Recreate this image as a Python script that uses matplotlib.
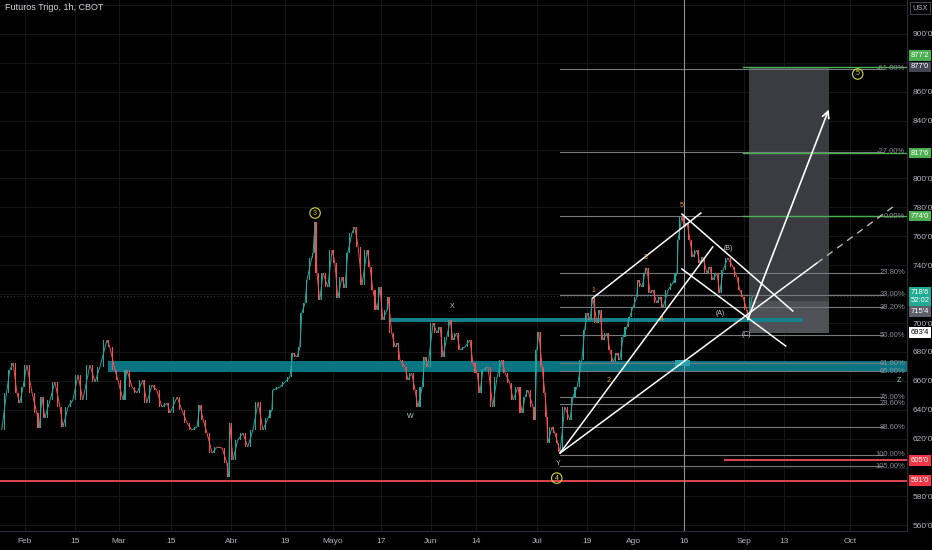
import numpy as np
import matplotlib.pyplot as plt
import matplotlib.transforms as mtransforms
from matplotlib.collections import LineCollection
from matplotlib.patches import Rectangle

plt.rcParams['font.family'] = ['Liberation Sans Narrow', 'Liberation Sans', 'DejaVu Sans']

# trading-day index (0 = 1 Feb) and price in cents
days = [-4.9, -3.9, -3.2, -2.5, -1.7, -1.1, -0.4, 0.4, 1.5, 2.5, 3.0, 3.6, 4.2, 5.3, 6.3, 7.4, 8.0, 9.1,
        10.1, 11.2, 12.2, 13.7, 14.8, 15.8, 17.3, 17.9, 19.0, 19.6, 20.7, 21.5, 22.6, 23.6, 24.9, 25.7,
        26.8, 27.8, 28.9, 30.0, 30.6, 32.1, 33.1, 34.2, 35.2, 36.3, 36.9, 37.6, 38.4, 39.5, 40.5, 41.6,
        42.6, 43.0, 43.2, 43.9, 44.9, 46.0, 47.0, 48.1, 49.2, 50.2, 51.3, 52.1, 52.3, 53.8, 54.9, 55.9,
        56.5, 57.4, 58.0, 58.4, 59.1, 59.5, 60.5, 60.8, 61.2, 61.6, 62.2, 62.9, 63.9, 64.8, 65.4, 66.0,
        66.9, 67.5, 68.1, 69.0, 69.6, 70.3, 71.1, 72.2, 72.8, 73.4, 74.3, 74.9, 75.5, 76.4, 76.6, 77.4,
        78.1, 78.7, 79.1, 80.2, 80.8, 81.6, 82.3, 82.9, 83.8, 84.4, 85.0, 86.1, 86.9, 87.6, 88.2, 89.0,
        89.7, 90.3, 91.1, 91.8, 92.8, 93.9, 94.5, 95.4, 96.0, 96.6, 97.7, 98.7, 99.6, 100.6, 101.3,
        102.3, 103.0, 104.0, 104.9, 105.5, 106.1, 107.2, 107.6, 108.0, 108.4, 109.1, 109.7, 110.1,
        110.3, 111.2, 111.8, 112.4, 112.9, 113.9, 115.0, 115.6, 116.5, 117.5, 118.1, 118.6, 119.2,
        119.8, 120.7, 121.3, 121.9, 122.8, 123.4, 124.1, 124.9, 125.5, 126.2, 127.0, 127.6, 128.3,
        129.1, 129.3, 130.2, 130.8, 131.2, 131.9, 132.5, 133.3, 134.0, 134.6, 135.7, 136.7, 137.6,
        137.8, 138.6, 139.2, 139.7, 140.3, 140.9, 141.8, 142.4, 143.0, 143.9, 144.5, 145.1, 146.0,
        146.6, 147.3, 148.3, 149.4, 150.2, 150.8, 151.5, 152.3, 152.5, 153.4, 153.6]
prices = [626.0, 651.6, 667.5, 672.3, 651.6, 644.6, 655.7, 670.9, 651.6, 637.7, 627.3, 648.8, 634.3,
          646.7, 659.2, 641.9, 628.0, 641.9, 646.7, 664.0, 646.7, 670.9, 659.2, 669.6, 688.2, 683.4,
          667.5, 660.6, 646.7, 667.5, 655.7, 651.6, 660.6, 644.6, 657.1, 653.6, 641.9, 644.6, 637.7,
          648.8, 639.8, 630.8, 626.0, 628.0, 643.3, 632.9, 623.9, 610.0, 614.2, 613.5, 603.1, 593.4,
          630.8, 605.2, 619.0, 623.9, 614.2, 626.0, 645.3, 626.0, 634.3, 639.8, 653.6, 655.7, 659.2,
          662.6, 679.2, 676.5, 683.4, 706.9, 713.8, 729.8, 745.0, 748.4, 769.9, 734.6, 715.9, 734.6,
          724.9, 750.5, 741.5, 717.3, 731.8, 724.2, 748.4, 762.3, 766.4, 752.6, 726.3, 750.5, 738.8,
          722.8, 709.0, 724.9, 702.1, 709.0, 718.0, 693.1, 683.4, 686.2, 674.4, 669.6, 660.6, 665.4,
          653.6, 641.9, 655.7, 676.5, 669.6, 700.0, 693.1, 697.2, 676.5, 690.3, 702.1, 688.2, 693.1,
          681.3, 683.4, 688.2, 672.3, 665.4, 651.6, 667.5, 669.6, 641.9, 662.6, 674.4, 665.4, 658.5,
          646.7, 655.7, 637.7, 648.8, 653.6, 641.9, 632.9, 681.3, 693.8, 669.6, 651.6, 635.0, 617.0,
          628.0, 623.9, 617.0, 610.7, 641.9, 632.9, 648.8, 655.7, 674.4, 695.2, 706.9, 702.1, 717.3,
          700.0, 709.0, 688.2, 693.1, 681.3, 673.0, 679.2, 674.4, 690.3, 697.2, 704.2, 711.1, 718.0,
          729.8, 724.9, 734.6, 738.1, 720.8, 722.8, 713.8, 718.0, 710.4, 722.8, 727.7, 734.6, 757.4,
          773.4, 766.4, 769.2, 757.4, 745.7, 750.5, 741.5, 745.7, 734.6, 738.8, 729.8, 734.6, 720.8,
          736.7, 745.0, 738.8, 731.8, 722.8, 718.0, 709.0, 702.1, 718.0, 718.6]

date_pos = [0.0, 10.5, 19.8, 30.8, 43.5, 54.9, 65.0, 75.1, 85.7, 95.1, 108.0, 118.6, 128.5, 139.0,
            151.7, 160.1, 174.1]
date_labels = ['Feb', '15', 'Mar', '15', 'Abr', '19', 'Mayo', '17', 'Jun', '14', 'Jul', '19', 'Ago',
               '16', 'Sep', '13', 'Oct']

# fibonacci anchors (wave 5 top / Y low)
fib_top, fib_low = 774.0, 609.0
fib_levels = [-0.618, -0.27, 0.0, 0.238, 0.33, 0.382, 0.5, 0.618, 0.65, 0.76, 0.786, 0.886, 1.0, 1.05]
fib_texts = ['-61.80%', '-27.00%', '0.00%', '23.80%', '33.00%', '38.20%', '50.00%', '61.80%',
             '65.00%', '76.00%', '78.60%', '88.60%', '100.00%', '105.00%']

green_levels = [877.2, 817.6, 774.0]
red_full, red_short = 591.0, 605.0
last_price = 718.6
box_target, box_entry, box_stop = 877.2, 715.4, 693.4
box_days = (152.7, 169.6)

# trend lines: ((day, price), (day, price))
trend_lines = [((112.9, 610.0), (145.1, 752.6)),
               ((112.9, 610.0), (167.1, 741.5)),
               ((119.8, 717.3), (142.6, 776.1)),
               ((138.6, 775.4), (162.0, 708.3)),
               ((138.6, 737.4), (160.5, 684.1))]
dashed_line = ((167.1, 741.5), (183.1, 780.3))
arrow_line = ((152.3, 700.7), (169.8, 849.5))

waves_small = [('1', 120.0, 722.8), ('2', 123.2, 659.9), ('3', 131.0, 745.0),
               ('4', 134.4, 702.1), ('5', 138.6, 781.0)]
waves_abc = [('(A)', 146.6, 706.9), ('(B)', 148.5, 751.9), ('(C)', 152.3, 692.4)]
waves_wxyz = [('W', 81.2, 635.0), ('X', 90.1, 711.1), ('Y', 112.4, 603.1), ('Z', 184.4, 659.9)]
waves_circle = [('3', 61.2, 776.1), ('4', 112.2, 592.7), ('5', 175.7, 872.3)]

# axis price labels: text, price, shift in points, face, text colour
axis_tags = [("877'2", 877.2, 8, '#4caf50', 'white'),
             ("877'0", 877.2, 0, '#434651', 'white'),
             ("817'6", 817.6, 0, '#4caf50', 'white'),
             ("774'0", 774.0, 0, '#4caf50', 'white'),
             ("718'6\n52:02", 718.6, 0, '#22ab94', 'white'),
             ("715'4", 715.4, -8, '#5d606b', 'white'),
             ("693'4", 693.4, 0, 'white', 'black'),
             ("605'0", 605.0, 0, '#f23645', 'white'),
             ("591'0", 591.0, 0, '#f23645', 'white')]

UP, DOWN = '#26a69a', '#ef5350'
BG = '#000000'
GRID = '#161616'
TXT = '#b2b5be'

fig = plt.figure(figsize=(9.32, 5.5), dpi=100, facecolor=BG)
ax = fig.add_axes([0, 19 / 550, 907 / 932, 531 / 550])
ax.set_facecolor(BG)
ax.set_xlim(-5.27, 186.1)
ax.set_ylim(556.1, 923.5)

# price ticks; the ones sitting under a tag or the USX box are not labelled
yt = np.arange(560, 921, 20)
tag_prices = [t[1] for t in axis_tags if t[2] == 0]
ylabels = []
for v in yt:
    hidden = v > ax.get_ylim()[1] - 8 or any(abs(v - tp) < 5.5 for tp in tag_prices)
    ylabels.append('' if hidden else f"{v}'0")
ax.set_yticks(yt)
ax.set_yticklabels(ylabels)
ax.yaxis.tick_right()
ax.set_xticks(date_pos)
ax.set_xticklabels(date_labels)
ax.tick_params(axis='both', length=0, colors=TXT, labelsize=6)
ax.tick_params(axis='y', pad=4)
ax.tick_params(axis='x', pad=5)
ax.grid(True, color=GRID, lw=0.7)
ax.set_axisbelow(True)
for s in ['top', 'left']:
    ax.spines[s].set_visible(False)
for s in ['right', 'bottom']:
    ax.spines[s].set_color('#2a2e39')

# bands and horizontal levels
ax.axhspan(666.0, 673.5, xmin=(17.5 + 5.27) / 191.37, color='#0a7482', lw=0, zorder=1.2)
ax.add_patch(Rectangle((77.0, 700.7), 164.1 - 77.0, 2.8, color='#13808c', lw=0, zorder=2.6))
ax.add_patch(Rectangle((137.1, 670.2), 3.2, 4.2, color='#2a9fb0', lw=0, zorder=2.7))
ax.axhline(red_full, color='#e0474f', lw=1.4, zorder=2)
ax.plot([147.7, 186.1], [red_short, red_short], color='#e0474f', lw=1.4, zorder=2)
ax.axhline(last_price, color='#333333', lw=0.8, ls=(0, (1, 2)), zorder=1)

# position box
ax.add_patch(Rectangle((box_days[0], box_entry), box_days[1] - box_days[0], box_target - box_entry,
                       color='#3a3c42', lw=0, zorder=1.5))
ax.add_patch(Rectangle((box_days[0], box_stop), box_days[1] - box_days[0], box_entry - box_stop,
                       color='#4f5157', lw=0, zorder=1.5))

# fib levels
for lv, t in zip(fib_levels, fib_texts):
    price = fib_top - lv * (fib_top - fib_low)
    ax.plot([112.9, 181.0], [price, price], color='#77797f', lw=0.8, zorder=2)
    ax.text(185.7, price, t, color='#8a8d95', fontsize=5.5, ha='right', va='center', zorder=6)
for g in green_levels:
    ax.plot([151.5, 186.1], [g, g], color='#4caf50', lw=1.0, zorder=2.2)

ax.axvline(139.0, color='#8f92a0', lw=0.8, zorder=2.4)

# candles: each read point closes a candle that opened at the previous one
d = np.array(days)
p = np.array(prices)
o, c = p[:-1], p[1:]
cols = np.where(c >= o, UP, DOWN)
segs = np.stack([np.column_stack([d[:-1], o]), np.column_stack([d[1:], c])], axis=1)
ax.add_collection(LineCollection(segs, colors=cols, linewidths=0.7, zorder=3))
ax.bar((d[:-1] + d[1:]) / 2, c - o, bottom=o, width=0.22, color=cols, lw=0, zorder=3)

# drawings
for a, b in trend_lines:
    ax.plot([a[0], b[0]], [a[1], b[1]], color='white', lw=1.1, zorder=4)
ax.plot([dashed_line[0][0], dashed_line[1][0]], [dashed_line[0][1], dashed_line[1][1]],
        color='#bbbbbb', lw=1.0, ls=(0, (5, 4)), zorder=4)
ax.annotate('', xy=arrow_line[1], xytext=arrow_line[0],
            arrowprops=dict(arrowstyle='->', color='white', lw=1.2, mutation_scale=12), zorder=4)

for t, x, y in waves_small:
    ax.text(x, y, t, color='#f0a030', fontsize=5, ha='center', va='center', zorder=5)
for t, x, y in waves_abc:
    ax.text(x, y, t, color='#c8cad0', fontsize=5, ha='center', va='center', zorder=5)
for t, x, y in waves_wxyz:
    ax.text(x, y, t, color='#a8d8dc', fontsize=5, ha='center', va='center', zorder=5)
for t, x, y in waves_circle:
    ax.text(x, y, t, color='#d6d63a', fontsize=5, ha='center', va='center', zorder=5,
            bbox=dict(boxstyle='circle,pad=0.25', fc='none', ec='#d6d63a', lw=0.8))

# price axis tags
trans = mtransforms.blended_transform_factory(ax.transAxes, ax.transData)
for t, y, off, fc, tc in axis_tags:
    ax.annotate(t, xy=(1.0143, y), xycoords=trans, xytext=(0, off), textcoords='offset points',
                ha='center', va='center', fontsize=5.5, color=tc, linespacing=1.2,
                bbox=dict(boxstyle='square,pad=0.25', fc=fc, ec='none'),
                annotation_clip=False, zorder=10)
fig.text(920 / 932, 1 - 8 / 550, 'USX', color=TXT, fontsize=5.5, ha='center', va='center',
         bbox=dict(boxstyle='square,pad=0.3', fc=BG, ec='#50535e', lw=0.6))

fig.text(5 / 932, 1 - 8 / 550, 'Futuros Trigo, 1h, CBOT', color='#d1d4dc', fontsize=6.5,
         ha='left', va='center')

fig.savefig('out.png', dpi=100, facecolor=BG)
